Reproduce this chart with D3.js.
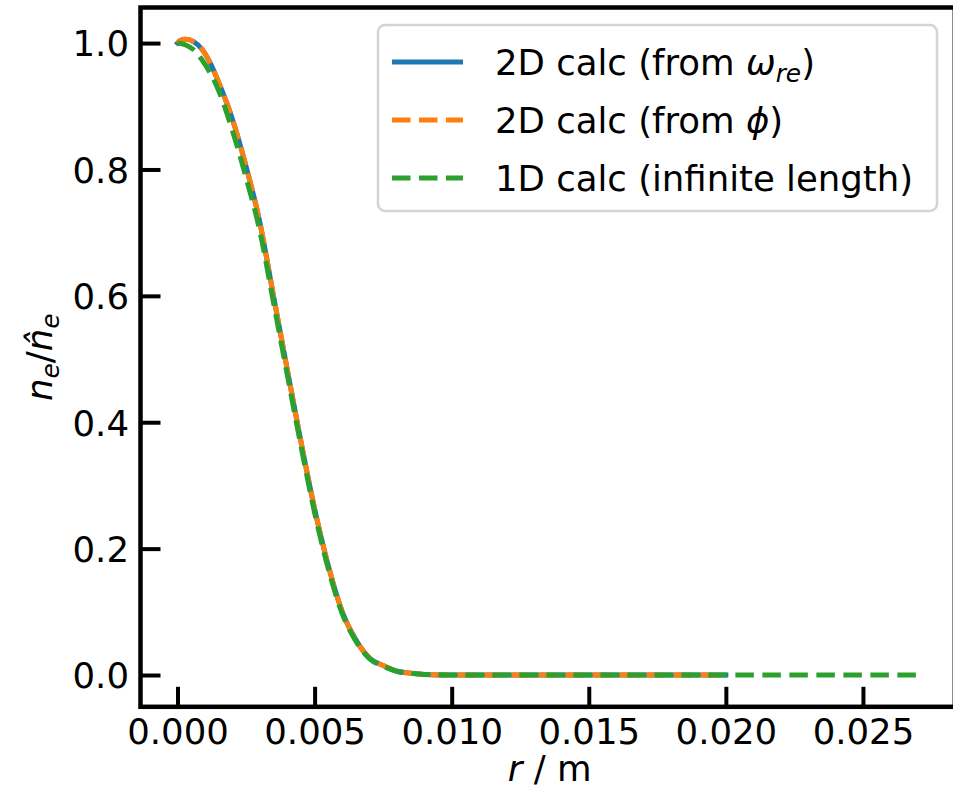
<!DOCTYPE html>
<html>
<head>
<meta charset="utf-8">
<script src="https://cdn.jsdelivr.net/npm/d3@7"></script>
<style>
  html, body { margin: 0; padding: 0; background: #fff; }
  svg { display: block; }
  text { font-family: "DejaVu Sans", sans-serif; fill: #000; }
</style>
</head>
<body>
<svg id="chart" width="953" height="798"></svg>
<script>
// ---- data ----
const rOmega = [0, 0.0001, 0.0003, 0.0006, 0.0009, 0.0012, 0.0015, 0.002, 0.0025, 0.003, 0.0035, 0.004, 0.0045, 0.005, 0.0055, 0.006, 0.0065, 0.007, 0.0075, 0.008, 0.0085, 0.009, 0.010, 0.020];
const nOmega = [1.000, 1.004, 1.006, 1.002, 0.990, 0.968, 0.938, 0.880, 0.805, 0.717, 0.600, 0.484, 0.370, 0.263, 0.173, 0.101, 0.056, 0.027, 0.015, 0.006, 0.003, 0.001, 0.000, 0.000];

const rPhi = [0, 0.0001, 0.0003, 0.0006, 0.0009, 0.0012, 0.0015, 0.002, 0.0025, 0.003, 0.0035, 0.004, 0.0045, 0.005, 0.0055, 0.006, 0.0065, 0.007, 0.0075, 0.008, 0.0085, 0.009, 0.010, 0.020];
const nPhi = [1.000, 1.004, 1.006, 1.002, 0.990, 0.968, 0.938, 0.880, 0.805, 0.717, 0.600, 0.484, 0.370, 0.263, 0.173, 0.101, 0.056, 0.027, 0.015, 0.006, 0.003, 0.001, 0.000, 0.000];

const r1D = [0, 0.0003, 0.0006, 0.0009, 0.0012, 0.0015, 0.002, 0.0025, 0.003, 0.0035, 0.004, 0.0045, 0.005, 0.0055, 0.006, 0.0065, 0.007, 0.0075, 0.008, 0.0085, 0.009, 0.010, 0.027];
const n1D = [1.000, 0.997, 0.989, 0.973, 0.952, 0.925, 0.862, 0.787, 0.703, 0.590, 0.476, 0.363, 0.257, 0.168, 0.098, 0.054, 0.026, 0.014, 0.006, 0.003, 0.001, 0.000, 0.000];

const xTicks = [0, 0.005, 0.010, 0.015, 0.020, 0.025];
const yTicks = [0.0, 0.2, 0.4, 0.6, 0.8, 1.0];

const seriesNames = ["2D calc (from ω_re)", "2D calc (from ϕ)", "1D calc (infinite length)"];
const seriesColors = ["#1f77b4", "#ff7f0e", "#2ca02c"];

// ---- layout ----
const FS = 35.5;
const pLeft = 140.5, pRight = 954.8, pTop = 7.5, pBottom = 706.8;
const svg = d3.select("#chart");

const x = d3.scaleLinear().domain([-0.00135, 0.02835]).range([pLeft, pRight]);
const y = d3.scaleLinear().domain([-0.0503, 1.0563]).range([pBottom, pTop]);

const series = [
  { pts: rOmega.map((r, i) => [r, nOmega[i]]), color: seriesColors[0], dash: null },
  { pts: rPhi.map((r, i) => [r, nPhi[i]]), color: seriesColors[1], dash: "18.5,8.5" },
  { pts: r1D.map((r, i) => [r, n1D[i]]), color: seriesColors[2], dash: "18.5,8.5" }
];

const line = d3.line().x(d => x(d[0])).y(d => y(d[1])).curve(d3.curveMonotoneX);

const plot = svg.append("g");
plot.append("clipPath").attr("id", "clip").append("rect")
  .attr("x", pLeft).attr("y", pTop).attr("width", pRight - pLeft).attr("height", pBottom - pTop);

series.forEach(s => {
  plot.append("path")
    .attr("d", line(s.pts))
    .attr("fill", "none")
    .attr("stroke", s.color)
    .attr("stroke-width", 5)
    .attr("stroke-dasharray", s.dash)
    .attr("stroke-linecap", s.dash ? "butt" : "square")
    .attr("clip-path", "url(#clip)");
});

// ---- axes (ticks inward) ----
const tickLen = 20;
const xAxis = d3.axisBottom(x).tickValues(xTicks).tickFormat(d3.format(".3f"))
  .tickSizeInner(-tickLen).tickSizeOuter(0).tickPadding(12);
const yAxis = d3.axisLeft(y).tickValues(yTicks).tickFormat(d3.format(".1f"))
  .tickSizeInner(-tickLen).tickSizeOuter(0).tickPadding(11.5);

const gx = svg.append("g").attr("transform", `translate(0,${pBottom})`).call(xAxis);
const gy = svg.append("g").attr("transform", `translate(${pLeft},0)`).call(yAxis);
[gx, gy].forEach(g => {
  g.select(".domain").remove();
  g.selectAll(".tick line").attr("stroke", "#000").attr("stroke-width", 4);
  g.selectAll(".tick text").attr("font-family", "DejaVu Sans").attr("font-size", FS).attr("fill", "#000");
});
gx.selectAll(".tick text").attr("dy", "0.71em");
gy.selectAll(".tick text").attr("dy", "0.36em");

// spines
svg.append("rect")
  .attr("x", pLeft).attr("y", pTop).attr("width", pRight - pLeft).attr("height", pBottom - pTop)
  .attr("fill", "none").attr("stroke", "#000").attr("stroke-width", 4.5);

// ---- axis labels ----
const xl = svg.append("text").attr("x", (pLeft + pRight) / 2 + 2).attr("y", 781)
  .attr("text-anchor", "middle").attr("font-size", FS);
xl.append("tspan").attr("font-style", "italic").text("r");
xl.append("tspan").text(" / m");

const yl = svg.append("text")
  .attr("transform", `translate(52,${(pTop + pBottom) / 2}) rotate(-90)`)
  .attr("text-anchor", "middle").attr("font-size", FS);
yl.append("tspan").attr("font-style", "italic").text("n");
yl.append("tspan").attr("font-style", "italic").attr("font-size", FS * 0.7).attr("dy", 7).text("e");
yl.append("tspan").attr("dy", -7).text("/");
yl.append("tspan").attr("font-style", "italic").text("n\u0302");
yl.append("tspan").attr("font-style", "italic").attr("font-size", FS * 0.7).attr("dy", 7).text("e");

// ---- legend ----
const lgX = 378, lgY = 25, lgW = 559, lgH = 186;
const lg = svg.append("g");
lg.append("rect").attr("x", lgX).attr("y", lgY).attr("width", lgW).attr("height", lgH)
  .attr("rx", 7).attr("ry", 7)
  .attr("fill", "rgba(255,255,255,0.8)").attr("stroke", "#d4d4d4").attr("stroke-width", 2.5);
const rowY = [62, 120, 178];
series.forEach((s, i) => {
  lg.append("line")
    .attr("x1", lgX + 14).attr("x2", lgX + 14 + 71)
    .attr("y1", rowY[i]).attr("y2", rowY[i])
    .attr("stroke", s.color).attr("stroke-width", 5)
    .attr("stroke-dasharray", s.dash);
  const t = lg.append("text").attr("x", lgX + 14 + 71 + 32).attr("y", rowY[i]).attr("dy", "0.36em")
    .attr("font-size", FS);
  if (i === 0) {
    t.append("tspan").text("2D calc (from ");
    t.append("tspan").attr("font-style", "italic").text("ω");
    t.append("tspan").attr("font-style", "italic").attr("font-size", FS * 0.7).attr("dy", 7).text("re");
    t.append("tspan").attr("dy", -7).text(")");
  } else if (i === 1) {
    t.append("tspan").text("2D calc (from ");
    t.append("tspan").attr("font-style", "italic").text("ϕ");
    t.append("tspan").text(")");
  } else {
    t.text(seriesNames[2]);
  }
});
</script>
</body>
</html>
